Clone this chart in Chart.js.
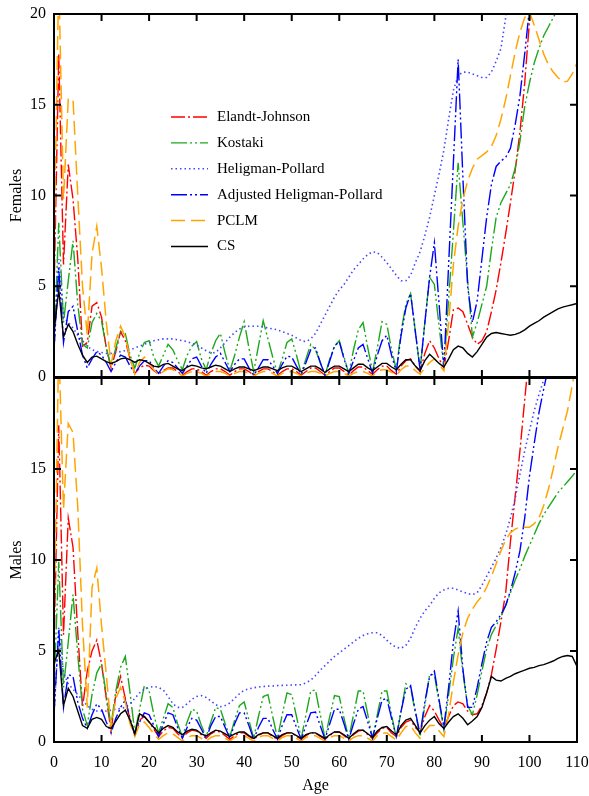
<!DOCTYPE html>
<html><head><meta charset="utf-8">
<script src="https://cdn.jsdelivr.net/npm/chart.js@4.4.1/dist/chart.umd.min.js"></script>
<style>
html,body{margin:0;padding:0;background:#fff;}
body{width:589px;height:796px;position:relative;overflow:hidden;}
#cF{position:absolute;left:0;top:0;}
#cM{position:absolute;left:0;top:370px;}
</style></head><body>
<canvas id="cF" width="589" height="390"></canvas>
<canvas id="cM" width="589" height="426"></canvas>
<script>
// ---------------- data ----------------
const ages = [0,1,2,3,4,5,6,7,8,9,10,11,12,13,14,15,16,17,18,19,20,21,22,23,24,25,26,27,28,29,
30,31,32,33,34,35,36,37,38,39,40,41,42,43,44,45,46,47,48,49,50,51,52,53,54,55,56,57,58,59,
60,61,62,63,64,65,66,67,68,69,70,71,72,73,74,75,76,77,78,79,80,81,82,83,84,85,86,87,88,89,
90,91,92,93,94,95,96,97,98,99,100,101,102,103,104,105,106,107,108,109,110];
const xTicks = [0,10,20,30,40,50,60,70,80,90,100,110];
const yTicks = [0,5,10,15,20];
const yLabelsF = [0,5,10,15,20];
const yLabelsM = [0,5,10,15];
const seriesNames = ['Elandt-Johnson','Kostaki','Heligman-Pollard','Adjusted Heligman-Pollard','PCLM','CS'];

// Females
const femEJ = [4.5,17.8,6.2,11.7,9.8,6.5,1.7,1.9,3.9,4.1,
3.3,1.6,0.5,1.4,2.5,2.0,1.0,0.2,0.5,0.65,
0.6,0.35,0.15,0.35,0.5,0.5,0.3,0.1,0.3,0.45,
0.45,0.3,0.1,0.3,0.45,0.45,0.3,0.1,0.3,0.45,
0.45,0.3,0.1,0.3,0.45,0.45,0.3,0.1,0.3,0.45,
0.45,0.3,0.1,0.3,0.5,0.5,0.3,0.1,0.3,0.5,
0.5,0.3,0.1,0.35,0.55,0.55,0.35,0.15,0.4,0.6,
0.6,0.35,0.15,0.6,0.9,1.0,0.6,0.3,1.3,2.0,
1.6,1.0,0.5,2.0,3.7,3.8,3.6,2.9,2.2,1.8,
2.0,2.5,3.6,4.8,6.3,7.9,9.6,11.4,13.5,16.2,
19.6,23,26.5,30,34,38,42,46,50,54,58];
const femKostaki = [1.5,8.5,3.0,5.3,7.5,4.0,1.8,1.6,3.0,3.5,
3.1,1.6,0.6,1.6,2.5,2.4,1.2,0.5,1.3,1.9,
2.0,1.1,0.6,1.2,1.8,1.5,0.9,0.4,1.2,1.7,
1.95,1.0,0.4,1.3,2.0,2.4,1.3,0.35,1.2,2.2,
3.05,1.6,0.3,1.7,3.1,2.1,1.1,0.2,1.0,1.9,
2.1,1.2,0.2,1.0,1.8,1.5,0.8,0.1,1.0,1.7,
2.0,1.1,0.2,1.5,2.6,3.0,1.6,0.3,1.6,3.05,
2.9,1.5,0.4,2.5,4.0,4.6,2.5,0.4,3.0,5.5,
5.1,2.8,0.5,4.3,8.0,11.8,8.5,5.3,2.2,3.0,
4.0,5.0,7.0,8.8,9.6,10.1,10.6,11.5,13.0,14.9,
16.2,17.3,18.1,18.8,19.3,19.8,20.3,20.8,21.3,21.8,22.3];
const femHP = [1.5,6.5,3.3,3.0,2.7,2.3,2.0,1.7,1.5,1.4,
1.35,1.3,1.3,1.35,1.4,1.45,1.5,1.6,1.7,1.8,
1.9,2.0,2.05,2.1,2.1,2.1,2.05,2.0,1.95,1.85,
1.75,1.6,1.45,1.32,1.35,1.6,1.9,2.2,2.45,2.65,
2.75,2.8,2.8,2.8,2.75,2.7,2.65,2.6,2.5,2.4,
2.3,2.15,2.0,1.95,2.1,2.4,2.9,3.4,3.9,4.4,
4.8,5.1,5.5,5.9,6.2,6.5,6.75,6.9,6.85,6.6,
6.3,5.95,5.6,5.3,5.3,5.6,6.3,6.9,7.8,8.8,
10.0,11.2,12.5,14.2,15.8,16.6,16.8,16.8,16.7,16.6,
16.5,16.5,16.8,17.4,18.1,19.8,22,24,26,28,
30,32,34,36,38,40,42,44,46,48,50];
const femAHP = [1.5,6.0,1.9,3.6,3.9,2.5,1.2,0.5,1.0,1.4,
1.2,0.8,0.3,0.8,1.2,1.1,0.6,0.2,0.6,0.9,
0.9,0.5,0.2,0.6,0.9,0.8,0.5,0.2,0.6,1.0,
1.1,0.6,0.2,0.7,1.1,1.3,0.8,0.3,0.7,1.0,
1.0,0.5,0.1,0.5,0.95,0.95,0.6,0.2,0.7,1.15,
1.1,0.6,0.15,0.8,1.5,1.6,0.8,0.1,0.9,1.7,
1.95,1.0,0.2,0.9,1.6,1.8,1.0,0.2,1.2,2.0,
2.3,1.2,0.3,2.3,3.8,4.6,2.5,0.4,3.0,5.5,
7.4,4.0,0.5,6.2,11.8,17.5,11.0,5.0,3.0,4.2,
6.5,8.8,10.6,11.6,11.9,12.1,12.6,13.9,15.5,17.8,
20.3,22.8,25,27,29,31,33,35,37,39,41];
const femPCLM = [7.0,22,9.8,15.3,15.3,10.0,5.0,2.3,6.8,8.3,
6.0,3.0,0.7,2.0,2.8,2.2,1.0,0.15,0.8,1.1,
0.8,0.4,0.1,0.3,0.45,0.4,0.25,0.05,0.2,0.3,
0.3,0.2,0.05,0.2,0.3,0.3,0.2,0.05,0.2,0.3,
0.3,0.2,0.05,0.2,0.3,0.3,0.2,0.05,0.2,0.3,
0.3,0.2,0.05,0.2,0.3,0.3,0.2,0.05,0.2,0.3,
0.3,0.2,0.05,0.2,0.3,0.3,0.2,0.05,0.3,0.4,
0.4,0.25,0.1,0.4,0.6,0.6,0.35,0.15,0.5,0.8,
1.0,0.7,0.35,3.0,6.2,8.3,9.8,10.8,11.5,12.0,
12.2,12.4,12.7,13.3,14.2,15.3,16.6,17.9,19.0,19.8,
20.1,19.4,18.6,17.8,17.2,16.8,16.5,16.25,16.3,16.7,17.3];
const femCS = [2.5,4.8,2.2,2.9,2.5,1.8,1.2,0.8,1.1,1.15,
1.0,0.85,0.75,0.85,1.0,1.05,0.95,0.8,0.95,0.9,
0.75,0.6,0.55,0.7,0.75,0.6,0.45,0.35,0.55,0.65,
0.6,0.5,0.45,0.55,0.65,0.6,0.45,0.3,0.45,0.55,
0.55,0.45,0.35,0.45,0.55,0.55,0.45,0.35,0.5,0.6,
0.6,0.45,0.3,0.45,0.6,0.6,0.45,0.25,0.45,0.6,
0.6,0.45,0.3,0.5,0.7,0.7,0.5,0.35,0.55,0.75,
0.75,0.55,0.4,0.7,0.95,0.95,0.6,0.35,0.9,1.25,
1.0,0.75,0.55,1.0,1.5,1.7,1.6,1.3,1.1,1.4,
1.8,2.2,2.4,2.45,2.4,2.35,2.3,2.35,2.45,2.6,
2.8,2.95,3.1,3.3,3.45,3.6,3.75,3.85,3.92,3.98,4.05];

// Males
const malEJ = [5.0,17.4,5.9,12.3,10.7,6.0,1.9,3.9,5.0,5.6,
4.3,2.4,0.6,2.6,3.6,2.4,1.2,0.4,1.2,1.4,
1.1,0.7,0.3,0.6,0.8,0.75,0.45,0.25,0.5,0.65,
0.6,0.4,0.2,0.45,0.6,0.55,0.35,0.15,0.35,0.5,
0.5,0.3,0.15,0.35,0.5,0.5,0.3,0.15,0.35,0.5,
0.5,0.3,0.15,0.35,0.5,0.5,0.3,0.15,0.35,0.55,
0.55,0.35,0.15,0.4,0.6,0.65,0.4,0.2,0.5,0.75,
0.8,0.5,0.3,0.8,1.1,1.2,0.8,0.55,1.4,2.0,
1.7,1.2,0.75,1.4,2.0,2.2,2.1,1.7,1.5,1.55,
2.0,2.7,3.7,5.1,6.6,8.2,11.0,13.5,16.0,18.8,
21.5,24.5,27.5,30.5,34,37,40,44,48,52,56];
const malKostaki = [3.0,9.9,3.0,5.5,8.1,4.8,1.8,0.9,2.6,3.8,
4.3,2.6,0.9,2.8,4.1,4.7,2.7,0.5,1.8,3.1,
2.8,1.5,0.5,1.3,2.1,1.9,1.0,0.3,1.1,1.8,
1.7,0.9,0.3,1.1,1.9,1.8,1.0,0.3,1.2,2.0,
2.2,1.2,0.2,1.4,2.5,2.6,1.4,0.2,1.5,2.7,
2.6,1.4,0.2,1.5,2.8,2.85,1.5,0.2,1.4,2.55,
2.5,1.3,0.2,1.5,2.8,2.8,1.5,0.2,1.5,2.8,
2.8,1.5,0.2,1.7,3.2,3.0,1.6,0.3,2.0,3.7,
3.7,2.2,0.7,2.6,4.6,6.25,3.8,2.0,1.5,2.6,
3.9,5.1,5.9,6.4,6.9,7.5,8.2,8.9,9.5,10.2,
10.8,11.4,12.0,12.5,12.9,13.3,13.7,14.0,14.3,14.6,14.95];
const malHP = [1.5,6.3,3.8,3.2,2.9,2.6,2.3,2.0,1.8,1.7,
1.7,1.7,1.75,1.8,1.85,1.9,2.1,2.4,2.7,2.9,
3.0,3.05,3.0,2.85,2.5,2.1,1.9,1.9,2.1,2.35,
2.5,2.55,2.45,2.25,2.05,1.94,2.0,2.15,2.4,2.65,
2.85,2.92,2.98,3.02,3.05,3.07,3.08,3.1,3.11,3.12,
3.13,3.14,3.15,3.25,3.4,3.65,3.95,4.2,4.45,4.7,
4.9,5.1,5.3,5.5,5.7,5.85,5.95,6.0,6.0,5.85,
5.6,5.35,5.2,5.15,5.3,5.7,6.3,6.8,7.2,7.5,
7.9,8.2,8.35,8.45,8.45,8.35,8.25,8.15,8.1,8.2,
8.6,9.1,9.6,10.1,10.7,11.4,12.3,13.4,14.7,16.0,
17.1,18.2,19.1,19.9,20.7,21.5,22.3,23.1,23.9,24.7,25.5];
const malAHP = [1.5,6.2,1.9,3.7,3.6,2.2,1.3,0.75,1.5,2.1,
1.8,1.1,0.5,1.3,1.9,2.3,1.3,0.4,1.1,1.6,
1.5,0.9,0.3,1.0,1.6,1.5,0.8,0.2,0.8,1.3,
1.2,0.7,0.2,0.9,1.4,1.4,0.8,0.2,1.0,1.6,
1.6,0.9,0.15,0.8,1.3,1.3,0.7,0.15,0.9,1.5,
1.5,0.8,0.15,0.9,1.6,1.65,0.9,0.15,1.0,1.8,
1.8,1.0,0.15,1.0,1.8,1.95,1.1,0.2,1.3,2.3,
2.4,1.3,0.3,1.7,2.9,3.1,1.7,0.4,2.2,3.6,
3.9,2.3,0.8,3.0,5.5,7.2,4.0,1.9,1.9,3.0,
4.3,5.5,6.3,6.6,7.0,7.5,8.3,9.3,10.5,12.3,
14.6,16.4,18.1,19.4,20.6,21.8,23.0,24.2,25.4,26.6,27.8];
const malPCLM = [6.0,22,12.8,17.5,17.0,12.9,6.4,1.9,8.5,9.55,
6.4,3.7,0.8,2.4,3.0,2.2,1.0,0.3,1.0,1.1,
0.8,0.45,0.15,0.35,0.5,0.45,0.25,0.05,0.25,0.35,
0.35,0.2,0.05,0.25,0.35,0.35,0.2,0.05,0.25,0.35,
0.35,0.2,0.05,0.25,0.35,0.35,0.2,0.05,0.25,0.35,
0.35,0.2,0.05,0.25,0.35,0.35,0.2,0.05,0.25,0.35,
0.35,0.2,0.05,0.25,0.35,0.35,0.2,0.05,0.35,0.5,
0.5,0.3,0.1,0.5,0.85,0.9,0.5,0.2,0.6,0.9,
0.9,0.6,0.3,1.5,3.3,4.8,6.0,6.8,7.3,7.7,
8.0,8.5,9.1,9.8,10.5,11.1,11.5,11.7,11.8,11.8,
11.8,12.0,12.3,13.0,13.9,15.0,16.2,17.2,18.2,19.6,21.0];
const malCS = [4.3,5.05,2.0,2.95,2.5,1.7,0.9,0.75,1.25,1.35,
1.25,0.85,0.75,1.15,1.55,1.75,1.2,0.45,1.55,1.4,
1.1,0.8,0.5,0.75,0.9,0.8,0.55,0.4,0.6,0.7,
0.65,0.45,0.33,0.5,0.65,0.6,0.45,0.3,0.45,0.55,
0.55,0.35,0.2,0.4,0.5,0.5,0.35,0.2,0.4,0.5,
0.5,0.35,0.2,0.4,0.5,0.5,0.35,0.2,0.4,0.55,
0.55,0.4,0.2,0.45,0.65,0.65,0.45,0.25,0.6,0.8,
0.85,0.6,0.4,0.9,1.2,1.3,0.9,0.5,0.9,1.2,
1.4,1.0,0.75,1.1,1.4,1.55,1.3,0.95,1.15,1.4,
1.9,2.7,3.6,3.4,3.35,3.5,3.6,3.75,3.85,3.95,
4.05,4.1,4.2,4.25,4.35,4.45,4.6,4.7,4.75,4.7,4.15];

// ---------------- styles ----------------
const FONT = '"Liberation Serif", "Times New Roman", serif';
Chart.defaults.font.family = FONT;
Chart.defaults.font.size = 16;
Chart.defaults.color = '#000';
const styles = [
  {color:'#ff0000', dash:[14,3,2,3], width:1.4},
  {color:'#1ca81c', dash:[16,3,2,3,2,3], width:1.4},
  {color:'#4646ff', dash:[1.5,3], width:1.6},
  {color:'#0000ff', dash:[16,3,2,3,2,3], width:1.4},
  {color:'#ffa500', dash:[14,6], width:1.5},
  {color:'#000000', dash:[], width:1.4}
];

const framePlugin = {
  id: 'frame',
  afterDatasetsDraw(chart) {
    const {ctx, chartArea: a, scales} = chart;
    const x = scales.x, y = scales.y;
    ctx.save();
    ctx.strokeStyle = '#000';
    ctx.lineWidth = 2;
    ctx.setLineDash([]);
    ctx.strokeRect(a.left, a.top, a.right - a.left, a.bottom - a.top);
    ctx.beginPath();
    xTicks.forEach(v => {
      const px = x.getPixelForValue(v);
      ctx.moveTo(px, a.bottom); ctx.lineTo(px, a.bottom - 7);
      ctx.moveTo(px, a.top); ctx.lineTo(px, a.top + 7);
    });
    yTicks.forEach(v => {
      const py = y.getPixelForValue(v);
      ctx.moveTo(a.left, py); ctx.lineTo(a.left + 7, py);
      ctx.moveTo(a.right, py); ctx.lineTo(a.right - 7, py);
    });
    ctx.stroke();
    ctx.restore();
  }
};

const legendPlugin = {
  id: 'inlegend',
  afterDatasetsDraw(chart) {
    const {ctx, chartArea: a} = chart;
    chart.data.datasets.forEach((ds, i) => {
      const yy = a.top + 103 + i * 25.9;
      const x0 = a.left + 117;
      ctx.save();
      ctx.strokeStyle = ds.borderColor;
      ctx.lineWidth = ds.borderWidth;
      ctx.setLineDash(ds.borderDash);
      ctx.beginPath(); ctx.moveTo(x0, yy); ctx.lineTo(x0 + 37, yy); ctx.stroke();
      ctx.setLineDash([]);
      ctx.fillStyle = '#000';
      ctx.font = '15px ' + FONT;
      ctx.textBaseline = 'middle';
      ctx.textAlign = 'left';
      ctx.fillText(ds.label, x0 + 46, yy);
      ctx.restore();
    });
  }
};

function makeChart(id, series, title, bottom) {
  const datasets = series.map((vals, i) => ({
    label: seriesNames[i],
    data: ages.map((a, k) => ({x: a, y: vals[k]})),
    borderColor: styles[i].color,
    borderDash: styles[i].dash,
    borderWidth: styles[i].width,
    pointRadius: 0,
    tension: 0,
    fill: false,
    order: series.length - i
  }));
  const yLabels = bottom ? yLabelsM : yLabelsF;
  return new Chart(document.getElementById(id), {
    type: 'line',
    data: {datasets},
    options: {
      responsive: false,
      animation: false,
      events: [],
      layout: {padding: bottom ? {top: 8, right: 12, left: 0, bottom: 0} : {top: 14, right: 12, left: 0, bottom: 13}},
      plugins: {legend: {display: false}, tooltip: {enabled: false}},
      scales: {
        x: {
          type: 'linear', min: 0, max: 110, display: bottom,
          afterBuildTicks: s => { s.ticks = xTicks.map(v => ({value: v})); },
          afterFit: s => {
            s.height = bottom ? 54 : 0;
            s.paddingLeft = 0; s.paddingRight = 0;
          },
          grid: {display: false, drawTicks: false},
          border: {display: false},
          ticks: {padding: 11, autoSkip: false, maxRotation: 0, color: '#000', font: {size: 16}},
          title: {display: true, text: 'Age', color: '#000', font: {size: 16}, padding: {top: 0, bottom: 1}}
        },
        y: {
          type: 'linear', min: 0, max: 20,
          afterBuildTicks: s => { s.ticks = yLabels.map(v => ({value: v})); },
          afterFit: s => {
            s.width = 54;
            s.paddingTop = 0; s.paddingBottom = 0;
          },
          grid: {display: false, drawTicks: false},
          border: {display: false},
          ticks: {padding: 8, autoSkip: false, color: '#000', font: {size: 16}},
          title: {display: true, text: title, color: '#000', font: {size: 16}, padding: {top: 7, bottom: 0}}
        }
      }
    },
    plugins: bottom ? [framePlugin] : [framePlugin, legendPlugin]
  });
}

makeChart('cF', [femEJ, femKostaki, femHP, femAHP, femPCLM, femCS], 'Females', false);
makeChart('cM', [malEJ, malKostaki, malHP, malAHP, malPCLM, malCS], 'Males', true);
</script>
</body></html>
